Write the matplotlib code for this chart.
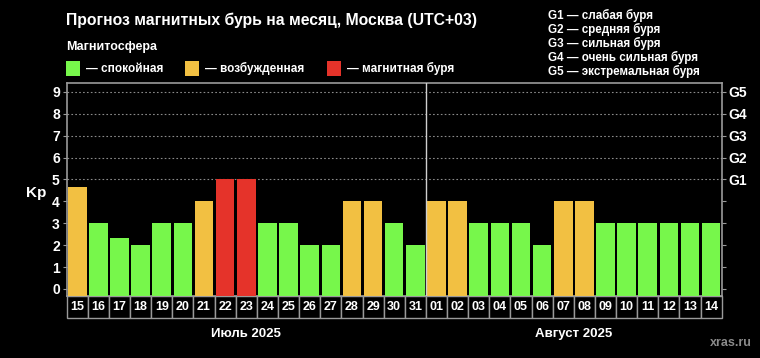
import matplotlib
matplotlib.use("Agg")
import matplotlib.pyplot as plt
from matplotlib.patches import Rectangle
import matplotlib.transforms as mtransforms

plt.rcParams["font.family"] = ["Liberation Sans", "DejaVu Sans"]

# ── data ──────────────────────────────────────────────────────────────────────
DAYS = ["15", "16", "17", "18", "19", "20", "21", "22", "23", "24", "25", "26",
        "27", "28", "29", "30", "31", "01", "02", "03", "04", "05", "06", "07",
        "08", "09", "10", "11", "12", "13", "14"]
KP = [4.67, 3, 2.33, 2, 3, 3, 4, 5, 5, 3, 3, 2, 2, 4, 4, 3, 2,
      4, 4, 3, 3, 3, 2, 4, 4, 3, 3, 3, 3, 3, 3]
# 0 = спокойная, 1 = возбужденная, 2 = магнитная буря
LEVEL = [1, 0, 0, 0, 0, 0, 1, 2, 2, 0, 0, 0, 0, 1, 1, 0, 0,
         1, 1, 0, 0, 0, 0, 1, 1, 0, 0, 0, 0, 0, 0]
MONTHS = ["Июль 2025", "Август 2025"]
MONTH_LEN = [17, 14]

LEVEL_COLORS = ["#77f74b", "#f2c042", "#e5332a"]
LEVEL_NAMES = ["— спокойная", "— возбужденная", "— магнитная буря"]
G_LABELS = ["G1", "G2", "G3", "G4", "G5"]
G_TEXT = ["G1 — слабая буря", "G2 — средняя буря", "G3 — сильная буря",
          "G4 — очень сильная буря", "G5 — экстремальная буря"]

YMIN, YMAX = -0.32, 9.4
EDGE = "#9a9a9a"

# ── figure ────────────────────────────────────────────────────────────────────
fig = plt.figure(figsize=(7.6, 3.58), dpi=100, facecolor="black")
ax = fig.add_axes([66.7 / 760, 1 - 296 / 358, 655 / 760, 213 / 358])
ax.set_facecolor("black")

x = list(range(len(KP)))
ax.bar(x, [v - YMIN for v in KP], bottom=YMIN, width=0.88,
       color=[LEVEL_COLORS[l] for l in LEVEL], zorder=3)

ax.set_xlim(-0.5, len(KP) - 0.5)
ax.set_ylim(YMIN, YMAX)

# dotted grid only in the storm range
for g in range(5, 10):
    ax.axhline(g, color="#8a8a8a", lw=0.8, ls=(0, (1.5, 2)), zorder=1)

# month divider
ax.axvline(MONTH_LEN[0] - 0.5, color="#cfcfcf", lw=1.0, zorder=4)

for s in ax.spines.values():
    s.set_color(EDGE)
    s.set_linewidth(1.2)

ax.set_xticks([])
ax.set_yticks(range(10))
ax.set_yticklabels([str(i) for i in range(10)], color="white",
                   fontsize=10, fontweight="bold")
ax.tick_params(axis="y", colors=EDGE, labelcolor="white", length=3, pad=2)

ax2 = ax.twinx()
ax2.set_ylim(YMIN, YMAX)
ax2.set_yticks(range(10))
ax2.set_yticklabels([""] * 5 + G_LABELS, fontsize=10, fontweight="bold")
ax2.tick_params(axis="y", colors=EDGE, labelcolor="white", length=3, pad=2)
for s in ax2.spines.values():
    s.set_visible(False)

ax.text(-0.047, (4.4 - YMIN) / (YMAX - YMIN), "Kp", transform=ax.transAxes,
        color="white", fontsize=11, fontweight="bold", ha="center", va="center")

# day boxes under the axes
trans = mtransforms.blended_transform_factory(ax.transData, ax.transAxes)
box_h = 22 / 213
for i, d in enumerate(DAYS):
    ax.add_patch(Rectangle((i - 0.5, -box_h), 1, box_h, transform=trans,
                           facecolor="black", edgecolor=EDGE, lw=1.0,
                           clip_on=False))
    ax.text(i, -box_h / 2, d, transform=trans, color="white", fontsize=9,
            fontweight="bold", ha="center", va="center")

# month labels
start = 0
for name, n in zip(MONTHS, MONTH_LEN):
    ax.text(start + (n - 1) / 2, -0.18, name, transform=trans, color="white",
            fontsize=9.5, fontweight="bold", ha="center", va="center")
    start += n

# header
fig.text(66 / 760, 1 - 20 / 358, "Прогноз магнитных бурь на месяц, Москва (UTC+03)",
         color="white", fontsize=11.3, fontweight="bold", va="center")
fig.text(66 / 760, 1 - 47 / 358, "Магнитосфера", color="white",
         fontsize=9, fontweight="bold", va="center")

sq_x = [66, 185, 327]
for xs, c, name in zip(sq_x, LEVEL_COLORS, LEVEL_NAMES):
    fig.patches.append(Rectangle((xs / 760, 1 - 76 / 358), 14 / 760, 15 / 358,
                                 transform=fig.transFigure, facecolor=c,
                                 edgecolor="none"))
    fig.text((xs + 20) / 760, 1 - 68.5 / 358, name, color="white",
             fontsize=8.5, fontweight="bold", va="center")

for k, t in enumerate(G_TEXT):
    fig.text(548 / 760, 1 - (15 + 14.2 * k) / 358, t, color="white",
             fontsize=8.4, fontweight="bold", va="center")

fig.text(731 / 760, 1 - 343 / 358, "xras.ru", color="#8a8a8a", fontsize=9,
         fontweight="bold", ha="center", va="center")

fig.savefig("out.png", dpi=100, facecolor="black")
